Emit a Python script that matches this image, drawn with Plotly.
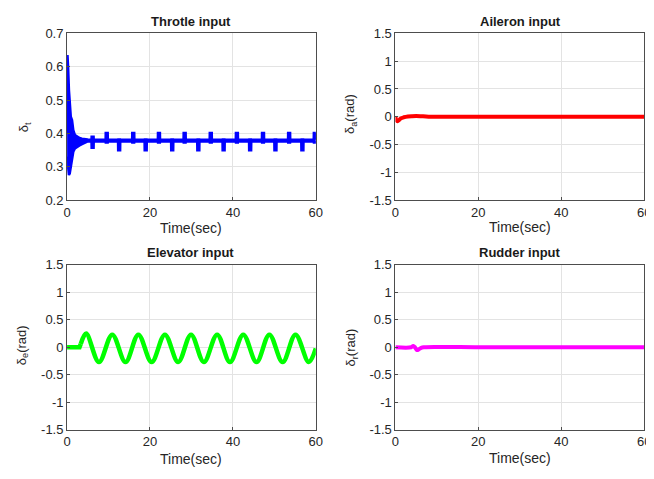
import plotly.graph_objects as go

# The page places the figure 8px from the window's top-left corner (body margin),
# so all positions below are given in window pixels and shifted by that offset.
W, H, OFF = 654, 479, 8

# ---------------- data ----------------
# Throttle: min/max envelope of the (dense) signal
thr_t0 = [0.0, 0.1, 0.25, 0.45, 0.65, 0.9, 1.2, 1.5, 1.9, 2.4, 3.0, 3.6, 4.3, 5.0]
thr_hi0 = [0.40, 0.635, 0.60, 0.53, 0.48, 0.45, 0.44, 0.41, 0.395, 0.39, 0.386, 0.384, 0.382, 0.382]
thr_lo0 = [0.33, 0.32, 0.29, 0.275, 0.28, 0.30, 0.32, 0.345, 0.355, 0.36, 0.364, 0.368, 0.372, 0.376]
thr_base_hi = 0.381
thr_base_lo = 0.376
burst_start = [5.9, 9.3, 12.3, 15.7, 18.7, 21.9, 25.1, 28.1, 31.4, 34.4, 37.5,
               40.7, 43.9, 47.0, 50.0, 53.3, 56.5, 59.5]
burst_hi = [0.390, 0.401, 0.382, 0.401, 0.382, 0.401, 0.382, 0.401, 0.382, 0.401,
            0.382, 0.401, 0.382, 0.401, 0.382, 0.401, 0.382, 0.401]
burst_lo = [0.357, 0.373, 0.349, 0.373, 0.349, 0.373, 0.349, 0.373, 0.349, 0.373,
            0.349, 0.373, 0.349, 0.373, 0.349, 0.373, 0.349, 0.373]

# Aileron
ail_t = [0, 0.2, 0.5, 0.9, 1.3, 2.0, 3.0, 4.0, 5.0, 6.0, 8.0, 20, 40, 60]
ail_v = [0.0, -0.06, -0.08, -0.06, -0.03, -0.01, 0.005, 0.01, 0.012, 0.01, 0.0, 0.0, 0.0, 0.0]

# Elevator
elev_t = [0, 3.0, 3.3, 4.6, 7.7, 10.9, 14.1, 17.2, 20.4, 23.6, 26.8, 29.9, 33.0,
          36.2, 39.3, 42.5, 45.7, 48.8, 52.0, 55.1, 58.3, 60.0]
elev_v = [0, 0, 0.06, 0.25, -0.27, 0.23, -0.27, 0.23, -0.27, 0.23, -0.27, 0.23, -0.27,
          0.23, -0.27, 0.23, -0.27, 0.23, -0.27, 0.23, -0.27, -0.02]

# Rudder
rud_t = [0, 3.8, 4.3, 4.7, 5.2, 5.6, 6.2, 7.0, 10, 20, 30, 40, 50, 60]
rud_v = [0, 0, 0.025, 0.0, -0.05, -0.04, -0.01, 0.0, 0.005, 0.0, 0.0, 0.0, 0.0, 0.0]

x_ticks = [0, 20, 40, 60]
thr_ticks = [0.2, 0.3, 0.4, 0.5, 0.6, 0.7]
thr_labels = ["0.2", "0.3", "0.4", "0.5", "0.6", "0.7"]
rad_ticks = [-1.5, -1, -0.5, 0, 0.5, 1, 1.5]
rad_labels = ["-1.5", "-1", "-0.5", "0", "0.5", "1", "1.5"]

titles = ["Throtle input", "Aileron input", "Elevator input", "Rudder input"]
ylabels = ["δ<sub>t</sub>", "δ<sub>a</sub>(rad)", "δ<sub>e</sub>(rad)", "δ<sub>r</sub>(rad)"]

# ---------------- build throttle envelope ----------------
env_t = list(thr_t0)
env_hi = list(thr_hi0)
env_lo = list(thr_lo0)
for ts, bh, bl in zip(burst_start, burst_hi, burst_lo):
    env_t += [ts, ts + 0.03, ts + 0.5, ts + 0.53]
    env_hi += [thr_base_hi, bh, bh, thr_base_hi]
    env_lo += [thr_base_lo, bl, bl, thr_base_lo]

fig = go.Figure()
BLUE, RED, GREEN, MAG = "#0000ff", "#ff0000", "#00ff00", "#ff00ff"

fig.add_trace(go.Scatter(x=env_t, y=env_hi, mode="lines", line=dict(color=BLUE, width=2.5),
                         xaxis="x", yaxis="y", showlegend=False, hoverinfo="skip"))
fig.add_trace(go.Scatter(x=env_t, y=env_lo, mode="lines", line=dict(color=BLUE, width=2.5),
                         fill="tonexty", fillcolor=BLUE,
                         xaxis="x", yaxis="y", showlegend=False, hoverinfo="skip"))

fig.add_trace(go.Scatter(x=ail_t, y=ail_v, mode="lines", line=dict(color=RED, width=4, shape="spline"),
                         xaxis="x2", yaxis="y2", showlegend=False))

fig.add_trace(go.Scatter(x=elev_t[:3], y=elev_v[:3], mode="lines", line=dict(color=GREEN, width=4.5),
                         xaxis="x3", yaxis="y3", showlegend=False))
fig.add_trace(go.Scatter(x=elev_t[2:], y=elev_v[2:], mode="lines",
                         line=dict(color=GREEN, width=4.5, shape="spline", smoothing=1.0),
                         xaxis="x3", yaxis="y3", showlegend=False))

fig.add_trace(go.Scatter(x=rud_t, y=rud_v, mode="lines", line=dict(color=MAG, width=4, shape="spline"),
                         xaxis="x4", yaxis="y4", showlegend=False))

# ---------------- layout ----------------
def px(x):
    return min(max((x - OFF) / W, 0.0), 1.0)

def py(y):
    return min(max(1 - (y - OFF) / H, 0.0), 1.0)

dom_x = [[px(64), px(317)], [px(398), px(651)], [px(64), px(317)], [px(398), px(651)]]
dom_y = [[py(199), py(27)], [py(199), py(27)], [py(436), py(266)], [py(436), py(266)]]

FONT = "Liberation Sans, Arial, sans-serif"
TXT = "#262626"
AX = "#4d4d4d"
GRID = "#e3e3e3"

layout = dict(width=W, height=H, autosize=False, margin=dict(l=0, r=0, t=0, b=0, pad=0),
              paper_bgcolor="white", plot_bgcolor="white",
              font=dict(family=FONT, size=12, color=TXT))

for i in range(4):
    s = "" if i == 0 else str(i + 1)
    layout["xaxis" + s] = dict(domain=dom_x[i], range=[0, 60], tickvals=x_ticks,
                               showline=True, mirror=True, linecolor=AX, linewidth=1,
                               showgrid=True, gridcolor=GRID, zeroline=False,
                               ticks="inside", ticklen=3, tickcolor=AX,
                               tickfont=dict(size=13, color=TXT),
                               anchor="y" + s)
    if i == 0:
        ya = dict(range=[0.2, 0.7], tickvals=thr_ticks, ticktext=thr_labels)
    else:
        ya = dict(range=[-1.5, 1.5], tickvals=rad_ticks, ticktext=rad_labels)
    ya.update(domain=dom_y[i], showline=True, mirror=True, linecolor=AX, linewidth=1,
              showgrid=True, gridcolor=GRID, zeroline=False,
              ticks="inside", ticklen=3, tickcolor=AX,
              tickfont=dict(size=13, color=TXT), anchor="x" + s)
    layout["yaxis" + s] = ya

ann = []
title_pos = [(190, 15), (525, 15), (190, 253), (525, 253)]
xl_pos = [(190, 228), (525, 227), (190, 466), (525, 465)]
yl_pos = [(21, 124), (353, 110), (18, 349), (353, 351)]
for i in range(4):
    ann.append(dict(text=titles[i], x=px(title_pos[i][0]), y=py(title_pos[i][1]),
                    xref="paper", yref="paper", showarrow=False, xanchor="center", yanchor="middle",
                    font=dict(size=13, color="#1a1a1a", weight="bold")))
    ann.append(dict(text="Time(sec)", x=px(xl_pos[i][0]), y=py(xl_pos[i][1]),
                    xref="paper", yref="paper", showarrow=False, xanchor="center", yanchor="middle",
                    font=dict(size=14, color=TXT)))
    ann.append(dict(text=ylabels[i], x=px(yl_pos[i][0]), y=py(yl_pos[i][1]), textangle=-90,
                    xref="paper", yref="paper", showarrow=False, xanchor="center", yanchor="middle",
                    font=dict(size=13, color=TXT)))
layout["annotations"] = ann

fig.update_layout(**layout)
fig.write_html("out.html", config={"displayModeBar": False})
